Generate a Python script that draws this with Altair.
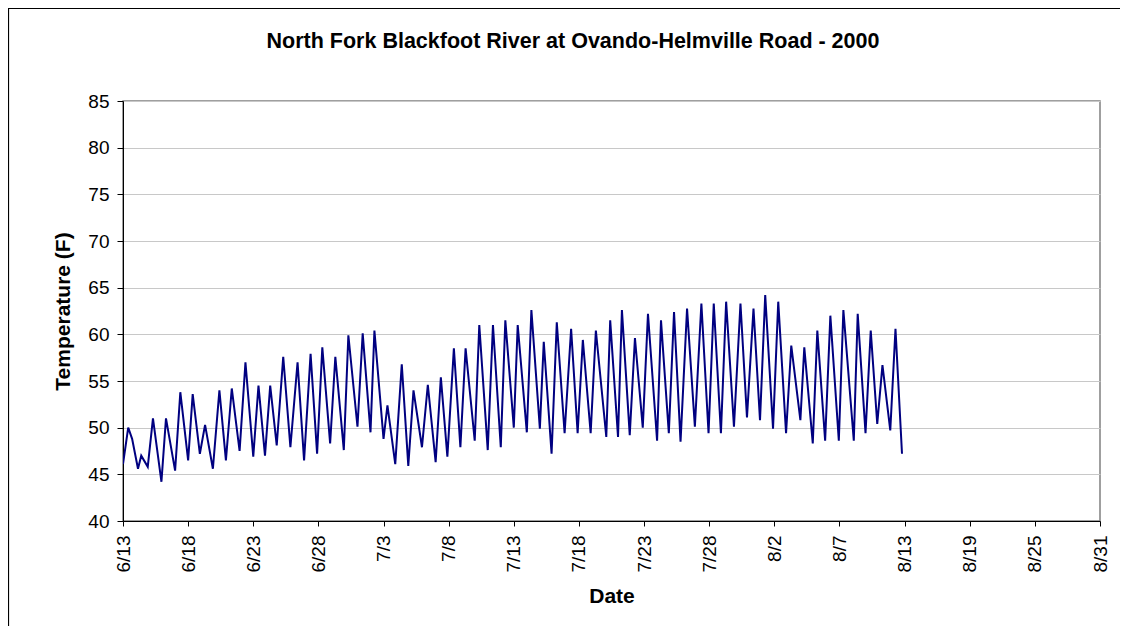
import altair as alt
import pandas as pd

# Turning points of the hourly record: days after 6/13/2000 and temperature (F)
days = [0.0, 0.4, 0.7, 1.15, 1.4, 1.9, 2.3, 2.95, 3.3, 4.0, 4.4, 5.0, 5.35, 5.9, 6.3, 6.9,
        7.4, 7.9, 8.35, 8.95, 9.4, 10.0, 10.4, 10.9, 11.3, 11.8, 12.3, 12.85, 13.4, 13.9,
        14.4, 14.9, 15.3, 15.9, 16.3, 16.95, 17.3, 18.0, 18.4, 19.0, 19.3, 20.0, 20.3, 20.9,
        21.4, 21.9, 22.3, 22.95, 23.4, 24.0, 24.4, 24.9, 25.4, 25.9, 26.3, 27.0, 27.35, 28.0,
        28.4, 29.0, 29.35, 30.0, 30.3, 31.0, 31.35, 32.0, 32.3, 32.9, 33.3, 33.9, 34.4, 34.9,
        35.3, 35.9, 36.3, 37.1, 37.4, 38.0, 38.3, 38.9, 39.3, 39.9, 40.3, 41.0, 41.3, 41.9,
        42.3, 42.8, 43.3, 43.9, 44.4, 44.95, 45.35, 45.9, 46.3, 46.9, 47.4, 47.9, 48.4, 48.9,
        49.3, 49.9, 50.3, 50.9, 51.3, 52.0, 52.3, 52.95, 53.3, 53.9, 54.3, 54.95, 55.3, 56.1,
        56.4, 57.0, 57.4, 57.9, 58.3, 58.9, 59.3, 59.8]
temps = [46.1, 50.0, 48.8, 45.6, 47.0, 45.8, 51.0, 44.2, 51.0, 45.4, 53.8, 46.5, 53.6, 47.2, 50.3, 45.6,
         54.0, 46.5, 54.2, 47.5, 57.0, 46.9, 54.5, 47.0, 54.5, 48.1, 57.6, 47.9, 57.0, 46.5,
         57.9, 47.2, 58.6, 48.3, 57.6, 47.6, 59.9, 50.1, 60.1, 49.5, 60.4, 48.8, 52.4, 46.1,
         56.8, 45.9, 54.0, 47.9, 54.6, 46.3, 55.4, 46.9, 58.5, 47.9, 58.5, 48.6, 61.0, 47.6,
         61.0, 47.9, 61.5, 50.0, 61.0, 49.5, 62.6, 49.9, 59.2, 47.2, 61.3, 49.4, 60.6, 49.4,
         59.4, 49.4, 60.4, 49.0, 61.5, 49.0, 62.6, 49.2, 59.6, 50.0, 62.2, 48.6, 61.5, 49.4,
         62.4, 48.5, 62.75, 50.1, 63.3, 49.4, 63.3, 49.4, 63.5, 50.1, 63.3, 51.1, 62.75, 50.8,
         64.2, 49.9, 63.5, 49.4, 58.8, 50.8, 58.6, 48.3, 60.4, 48.6, 62.0, 48.6, 62.6, 48.6,
         62.2, 49.4, 60.4, 50.4, 56.7, 49.7, 60.6, 47.2]

tick_days = [0, 5, 10, 15, 20, 25, 30, 35, 40, 45, 50, 55, 60, 65, 70, 75]
tick_labels = ["6/13", "6/18", "6/23", "6/28", "7/3", "7/8", "7/13", "7/18",
               "7/23", "7/28", "8/2", "8/7", "8/13", "8/19", "8/25", "8/31"]
y_ticks = [40, 45, 50, 55, 60, 65, 70, 75, 80, 85]

title_text = "North Fork Blackfoot River at Ovando-Helmville Road - 2000"

df = pd.DataFrame({"day": days, "temp": temps})

FONT = "Liberation Sans"
W, H = 977, 420
PL, PT, PR, PB = 115, 93, 20, 105

label_array = "[" + ",".join("'" + s + "'" for s in tick_labels) + "]"

line = alt.Chart(df).mark_line(color="#000080", strokeWidth=2, clip=True).encode(
    x=alt.X("day:Q",
            scale=alt.Scale(domain=[0, 75], nice=False, zero=False),
            axis=alt.Axis(values=tick_days, labelExpr=label_array + "[round(datum.value/5)]",
                          labelAngle=270, labelFontSize=19, labelFont=FONT, labelColor="#000",
                          labelPadding=9, tickSize=5, tickColor="#000", domainColor="#000",
                          grid=False, title="Date", titleFont=FONT, titleFontSize=21,
                          titleFontWeight="bold", titleColor="#000", titlePadding=14)),
    y=alt.Y("temp:Q",
            scale=alt.Scale(domain=[40, 85], nice=False, zero=False),
            axis=alt.Axis(values=y_ticks, labelFontSize=19, labelFont=FONT, labelColor="#000",
                          labelPadding=8, tickSize=6, tickColor="#000", domainColor="#000",
                          grid=True, gridColor="#c8c8c8", gridWidth=1,
                          title="Temperature (F)", titleFont=FONT, titleFontSize=21,
                          titleFontWeight="bold", titleColor="#000", titlePadding=14)),
)

title = alt.Chart(pd.DataFrame({"t": [title_text]})).mark_text(
    font=FONT, fontSize=21.5, fontWeight="bold", color="#000", align="center",
    baseline="alphabetic"
).encode(x=alt.value(450), y=alt.value(-53), text="t:N")

frame_df = pd.DataFrame({"k": [0]})
frame_top = alt.Chart(frame_df).mark_rule(color="#000", strokeWidth=1.2).encode(
    x=alt.value(-PL), x2=alt.value(W + PR + 40), y=alt.value(-PT + 0.5))
frame_left = alt.Chart(frame_df).mark_rule(color="#000", strokeWidth=1.2).encode(
    x=alt.value(-PL + 0.5), y=alt.value(-PT), y2=alt.value(H + PB + 40))

chart = alt.layer(frame_top, frame_left, line, title).properties(
    width=W, height=H,
    padding={"left": PL, "top": PT, "right": PR, "bottom": PB},
    autosize=alt.AutoSizeParams(type="none"),
    background="white",
).configure_view(stroke="#808080", strokeWidth=1.5)

chart.save("out.html", embed_options={"renderer": "svg", "actions": False})
